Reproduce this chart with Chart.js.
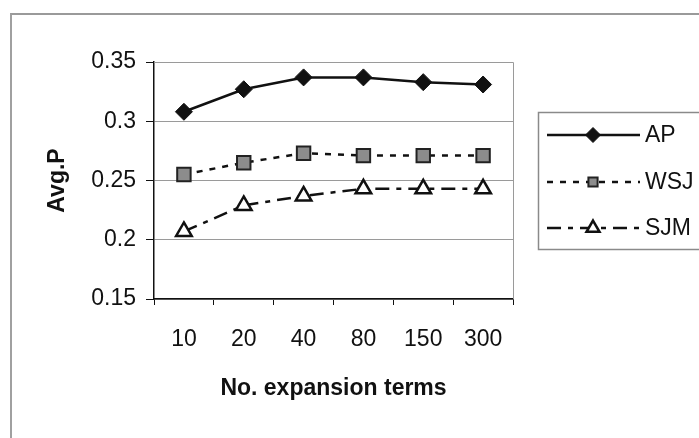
<!DOCTYPE html>
<html>
<head>
<meta charset="utf-8">
<script src="https://cdn.jsdelivr.net/npm/chart.js@4/dist/chart.umd.min.js"></script>
<style>
html,body{margin:0;padding:0;background:#fff;}
#wrap{position:relative;width:699px;height:438px;}
#frame{position:absolute;left:10px;top:13px;width:700px;height:440px;border-top:2px solid #9a9a9a;border-left:2px solid #a0a0a0;pointer-events:none;}
canvas{position:absolute;left:0;top:0;}
</style>
</head>
<body>
<div id="wrap">
<canvas id="c" width="699" height="438"></canvas>
<div id="frame"></div>
</div>
<script>
const categories = ["10", "20", "40", "80", "150", "300"];
const apValues  = [0.308, 0.327, 0.337, 0.337, 0.333, 0.331];
const wsjValues = [0.255, 0.265, 0.273, 0.271, 0.271, 0.271];
const sjmValues = [0.207, 0.229, 0.237, 0.243, 0.243, 0.243];
const yTicks = [0.15, 0.2, 0.25, 0.3, 0.35];
const seriesNames = ["AP", "WSJ", "SJM"];

const FONT = "'Liberation Sans', Arial, sans-serif";

const frameAndLegend = {
  id: 'frameAndLegend',
  beforeDatasetsDraw(chart) {
    const {ctx, chartArea: a} = chart;
    ctx.save();
    ctx.strokeStyle = '#9a9a9a';
    ctx.lineWidth = 1;
    ctx.beginPath();
    ctx.moveTo(a.left, a.top + 0.5);
    ctx.lineTo(a.right + 0.5, a.top + 0.5);
    ctx.lineTo(a.right + 0.5, a.bottom);
    ctx.stroke();
    ctx.restore();
  },
  afterDraw(chart) {
    const ctx = chart.ctx;
    ctx.save();
    ctx.strokeStyle = '#8a8a8a';
    ctx.lineWidth = 1.5;
    ctx.strokeRect(538.5, 112.5, 200, 137);
    const rows = [135, 182, 228];
    chart.data.datasets.forEach((ds, i) => {
      const y = rows[i];
      ctx.strokeStyle = ds.borderColor;
      ctx.lineWidth = ds.borderWidth;
      ctx.setLineDash(ds.borderDash || []);
      ctx.beginPath();
      ctx.moveTo(547, y);
      ctx.lineTo(640, y);
      ctx.stroke();
      ctx.setLineDash([]);
      ctx.fillStyle = ds.pointBackgroundColor;
      ctx.strokeStyle = ds.pointBorderColor;
      ctx.lineWidth = ds.pointBorderWidth;
      Chart.helpers.drawPoint(ctx, {
        pointStyle: ds.pointStyle,
        rotation: 0,
        radius: ds.legendRadius,
        borderWidth: ds.pointBorderWidth
      }, 593, y);
      ctx.fillStyle = '#111';
      ctx.font = '23px ' + FONT;
      ctx.textBaseline = 'middle';
      ctx.textAlign = 'left';
      ctx.fillText(ds.label, 645, y + 1);
    });
    ctx.restore();
  }
};

new Chart(document.getElementById('c'), {
  type: 'line',
  data: {
    labels: categories,
    datasets: [
      {
        label: seriesNames[0], data: apValues,
        borderColor: '#111', borderWidth: 2.5,
        pointStyle: 'rectRot', pointRadius: 8.5, legendRadius: 7.5,
        pointBackgroundColor: '#111', pointBorderColor: '#111', pointBorderWidth: 1
      },
      {
        label: seriesNames[1], data: wsjValues,
        borderColor: '#111', borderWidth: 2.5, borderDash: [6, 7],
        pointStyle: 'rect', pointRadius: 9.5, legendRadius: 6.5,
        pointBackgroundColor: '#8c8c8c', pointBorderColor: '#222', pointBorderWidth: 2
      },
      {
        label: seriesNames[2], data: sjmValues,
        borderColor: '#111', borderWidth: 2.5, borderDash: [14, 7, 5, 7],
        pointStyle: 'triangle', pointRadius: 9, legendRadius: 7.5,
        pointBackgroundColor: '#fff', pointBorderColor: '#111', pointBorderWidth: 2.5
      }
    ]
  },
  options: {
    responsive: false,
    animation: false,
    layout: { padding: { top: 62, right: 186, left: 0, bottom: 0 } },
    plugins: { legend: { display: false }, tooltip: { enabled: false } },
    elements: { line: { tension: 0 } },
    scales: {
      x: {
        type: 'category',
        offset: true,
        grid: { offset: true, drawOnChartArea: false, drawTicks: true, tickLength: 6, color: '#111', lineWidth: 1 },
        border: { color: '#111', width: 1.5 },
        ticks: { color: '#111', font: { family: FONT, size: 23 }, padding: 21, maxRotation: 0 },
        title: { display: true, text: 'No. expansion terms', color: '#111',
                 font: { family: FONT, size: 23, weight: 'bold' }, padding: { top: 0, bottom: 36 } },
        afterFit(s) { s.height = 139; }
      },
      y: {
        min: 0.15, max: 0.35,
        afterBuildTicks(s) { s.ticks = yTicks.map(v => ({ value: v })); },
        grid: { color: '#9a9a9a', tickColor: '#111', drawTicks: true, tickLength: 8, lineWidth: 1 },
        border: { color: '#111', width: 1.5 },
        ticks: { color: '#111', font: { family: FONT, size: 23 }, padding: 10,
                 callback: (v) => String(+v.toFixed(2)) },
        title: { display: true, text: 'Avg.P', color: '#111',
                 font: { family: FONT, size: 23, weight: 'bold' }, padding: { top: 44, bottom: 0 } },
        afterFit(s) { s.width = 154; }
      }
    }
  },
  plugins: [frameAndLegend]
});
</script>
</body>
</html>
